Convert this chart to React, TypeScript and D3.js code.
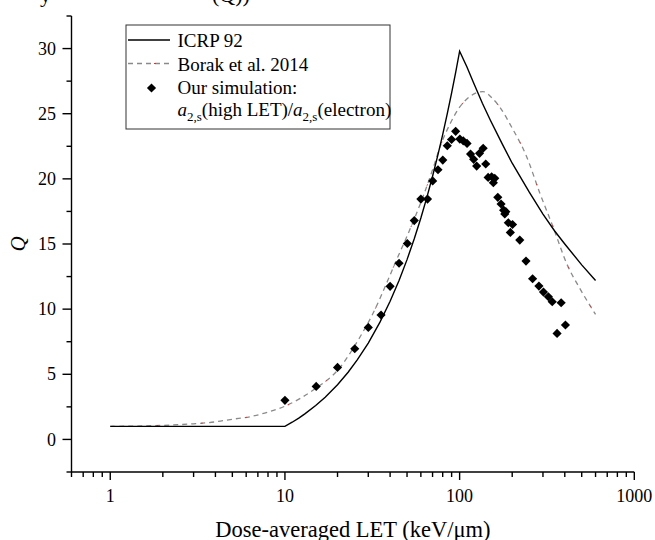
import React, { useEffect, useRef } from 'react';
import * as d3 from 'd3';

// ICRP 92 quality factor curve
const icrpLet = [1, 10, 11, 12, 13, 15, 17, 20, 23, 26, 30, 35, 40, 45, 50, 55, 60, 65, 70, 75, 80, 85, 90, 95, 100, 110, 120, 135, 150, 175, 200, 250, 300, 350, 400, 500, 600];
const icrpQ = [1, 1, 1.32, 1.64, 1.96, 2.6, 3.24, 4.2, 5.16, 6.12, 7.4, 9.0, 10.6, 12.2, 13.8, 15.4, 17.0, 18.6, 20.2, 21.8, 23.4, 25.0, 26.6, 28.2, 29.8, 28.6, 27.4, 25.8, 24.5, 22.7, 21.2, 19.0, 17.3, 16.0, 15.0, 13.4, 12.2];

// Borak et al. 2014
const borakLet = [1, 2, 3, 4, 5, 6.3, 8, 10, 15, 20, 27, 32, 38.5, 43.6, 50, 62, 70.8, 77, 88, 100, 114, 136, 156, 170, 198, 242, 288, 343, 410, 492, 600];
const borakQ = [1.0, 1.08, 1.2, 1.35, 1.55, 1.74, 2.1, 2.55, 3.92, 5.3, 7.9, 9.7, 12.1, 13.8, 15.6, 18.7, 20.9, 22.4, 24.2, 25.5, 26.3, 26.7, 26.1, 25.5, 24.0, 21.7, 18.9, 16.3, 13.5, 11.5, 9.6];

// Our simulation
const simLet = [10, 15.1, 20, 25.1, 30, 35.5, 40, 45, 50.2, 55, 60, 65.5, 70.1, 75.2, 80.1, 85, 89.9, 94.9, 100.3, 104.9, 110.3, 115.5, 120.3, 125.2, 130, 136.4, 141.1, 145.6, 152.5, 156, 158.9, 165.4, 172.7, 178.6, 181.4, 183.9, 190, 195.2, 200.9, 221, 239.9, 261.7, 284.4, 302, 322.2, 339, 361.3, 381.3, 403.4];
const simQ = [3.0, 4.07, 5.53, 6.96, 8.6, 9.55, 11.75, 13.52, 15.04, 16.8, 18.45, 18.45, 19.84, 20.7, 21.44, 22.54, 23.02, 23.65, 23.05, 22.92, 22.72, 21.9, 21.5, 20.98, 21.96, 22.35, 21.14, 20.11, 20.16, 19.7, 20.04, 18.58, 18.07, 17.6, 17.3, 17.48, 16.63, 15.89, 16.5, 15.3, 13.69, 12.33, 11.77, 11.31, 10.95, 10.57, 8.14, 10.49, 8.78];

const xMajor = [1, 10, 100, 1000];
const xMinor = [0.6, 0.7, 0.8, 0.9, 2, 3, 4, 5, 6, 7, 8, 9, 20, 30, 40, 50, 60, 70, 80, 90, 200, 300, 400, 500, 600, 700, 800, 900];
const yMajor = [0, 5, 10, 15, 20, 25, 30];
const yMinor = [-2.5, 2.5, 7.5, 12.5, 17.5, 22.5, 27.5, 32.5];

const FONT = '"Liberation Serif", "Times New Roman", serif';

export default function App() {
  const svgRef = useRef<SVGSVGElement>(null);

  useEffect(() => {
    if (!svgRef.current) return;
    const svg = d3.select(svgRef.current);
    svg.selectAll('*').remove();

    const left = 71.5, right = 634.3, top = 16, bottom = 472;

    const x = d3.scaleLog().domain([0.6, 1000]).range([left, right]);
    const y = d3.scaleLinear().domain([-2.5, 32.5]).range([bottom, top]);

    svg.append('rect').attr('width', 655).attr('height', 540).attr('fill', '#fff');

    // clipped caption line from above the figure
    svg.append('text').attr('x', 40).attr('y', 2).attr('font-family', FONT).attr('font-size', 22).text('y');
    svg.append('text').attr('x', 212).attr('y', 2).attr('font-family', FONT).attr('font-size', 22).text('(Q))');

    // Curves
    const icrpData = icrpLet.map((l, i) => [l, icrpQ[i]]);
    const borakData = borakLet.map((l, i) => [l, borakQ[i]]);

    const lineLin = d3.line<number[]>().x(d => x(d[0])).y(d => y(d[1]));
    const lineSmooth = d3.line<number[]>().x(d => x(d[0])).y(d => y(d[1])).curve(d3.curveMonotoneX);

    svg.append('path')
      .datum(borakData)
      .attr('fill', 'none')
      .attr('stroke', '#8a8a8a')
      .attr('stroke-width', 1.3)
      .attr('stroke-dasharray', '5,4')
      .attr('d', lineSmooth);
    svg.append('path')
      .datum(borakData)
      .attr('fill', 'none')
      .attr('stroke', '#e03030')
      .attr('stroke-width', 1)
      .attr('stroke-dasharray', '1.5,43')
      .attr('stroke-dashoffset', -2)
      .attr('d', lineSmooth);

    svg.append('path')
      .datum(icrpData)
      .attr('fill', 'none')
      .attr('stroke', '#000')
      .attr('stroke-width', 1.4)
      .attr('d', lineLin);

    // Simulation points
    const diamond = d3.symbol().type(d3.symbolSquare).size(42);
    svg.append('g')
      .selectAll('path')
      .data(simLet.map((l, i) => [l, simQ[i]]))
      .join('path')
      .attr('d', diamond)
      .attr('transform', d => `translate(${x(d[0])},${y(d[1])}) rotate(45)`)
      .attr('fill', '#000');

    // Axes
    const axes = svg.append('g').attr('stroke', '#000').attr('stroke-width', 1.4);
    axes.append('line').attr('x1', left).attr('x2', left).attr('y1', top).attr('y2', bottom);
    axes.append('line').attr('x1', left).attr('x2', right).attr('y1', bottom).attr('y2', bottom);

    axes.selectAll('.ymaj').data(yMajor).join('line')
      .attr('x1', left - 9).attr('x2', left).attr('y1', d => y(d)).attr('y2', d => y(d));
    axes.selectAll('.ymin').data(yMinor).join('line')
      .attr('x1', left - 5).attr('x2', left).attr('y1', d => y(d)).attr('y2', d => y(d));
    axes.selectAll('.xmaj').data(xMajor).join('line')
      .attr('x1', d => x(d)).attr('x2', d => x(d)).attr('y1', bottom).attr('y2', bottom + 8);
    axes.selectAll('.xmin').data(xMinor).join('line')
      .attr('x1', d => x(d)).attr('x2', d => x(d)).attr('y1', bottom).attr('y2', bottom + 5);

    svg.append('g').selectAll('text').data(yMajor).join('text')
      .attr('x', 56).attr('y', d => y(d)).attr('dy', '0.34em')
      .attr('text-anchor', 'end')
      .attr('font-family', FONT).attr('font-size', 18)
      .text(d => d);

    svg.append('g').selectAll('text').data(xMajor).join('text')
      .attr('x', d => x(d)).attr('y', 502)
      .attr('text-anchor', 'middle')
      .attr('font-family', FONT).attr('font-size', 18)
      .text(d => d);

    // Axis titles
    svg.append('text')
      .attr('x', (left + right) / 2).attr('y', 536.5)
      .attr('text-anchor', 'middle')
      .attr('font-family', FONT).attr('font-size', 22.5)
      .text('Dose-averaged LET (keV/μm)');

    svg.append('text')
      .attr('transform', `translate(25,${(top + bottom) / 2}) rotate(-90)`)
      .attr('text-anchor', 'middle')
      .attr('font-family', FONT).attr('font-size', 21).attr('font-style', 'italic')
      .text('Q');

    // Legend
    const lg = svg.append('g').attr('font-family', FONT).attr('font-size', 19);
    lg.append('rect').attr('x', 126).attr('y', 25).attr('width', 264).attr('height', 104)
      .attr('fill', '#fff').attr('stroke', '#333').attr('stroke-width', 1);

    lg.append('line').attr('x1', 128).attr('x2', 170).attr('y1', 40).attr('y2', 40)
      .attr('stroke', '#000').attr('stroke-width', 1.4);
    lg.append('text').attr('x', 177.5).attr('y', 47).text('ICRP 92');

    lg.append('line').attr('x1', 128).attr('x2', 170).attr('y1', 63.5).attr('y2', 63.5)
      .attr('stroke', '#8a8a8a').attr('stroke-width', 1.3).attr('stroke-dasharray', '5,4');
    lg.append('line').attr('x1', 154).attr('x2', 156).attr('y1', 63.5).attr('y2', 63.5)
      .attr('stroke', '#e03030').attr('stroke-width', 1);
    lg.append('text').attr('x', 177.5).attr('y', 70.5).text('Borak et al. 2014');

    lg.append('path').attr('d', diamond).attr('transform', 'translate(151.5,88) rotate(45)').attr('fill', '#000');
    lg.append('text').attr('x', 177.5).attr('y', 94).text('Our simulation:');

    const t4 = lg.append('text').attr('x', 177.5).attr('y', 116);
    t4.append('tspan').attr('font-style', 'italic').text('a');
    t4.append('tspan').attr('font-size', 13).attr('dy', 5).text('2,s');
    t4.append('tspan').attr('dy', -5).text('(high LET)/');
    t4.append('tspan').attr('font-style', 'italic').text('a');
    t4.append('tspan').attr('font-size', 13).attr('dy', 5).text('2,s');
    t4.append('tspan').attr('dy', -5).text('(electron)');
  }, []);

  return (
    <div style={{ position: 'absolute', left: 0, top: 0 }}>
      <svg ref={svgRef} width={655} height={540} style={{ display: 'block' }} />
    </div>
  );
}
